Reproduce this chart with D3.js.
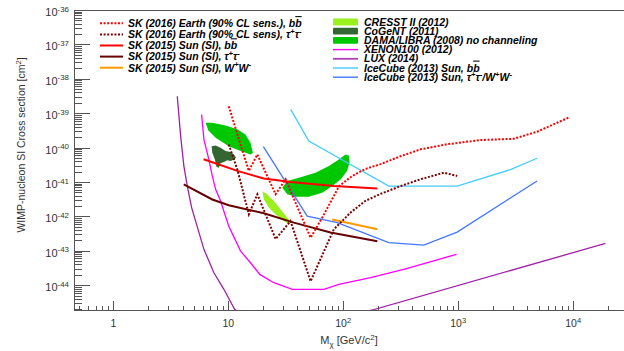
<!DOCTYPE html>
<html>
<head>
<meta charset="utf-8">
<script src="https://cdn.jsdelivr.net/npm/d3@7"></script>
<style>
body { margin: 0; background: #fff; }
svg { display: block; }
text { font-family: "Liberation Sans", Arial, sans-serif; }
</style>
</head>
<body>
<svg id="chart" width="624" height="351"></svg>
<script>
// axis ranges / ticks
const massRange = [0.455, 3e4]
const sigmaRange = [1.9e-45, 1e-36]
const massTicks = [1, 10, 100, 1000, 10000]
const massTickLabels = ['1', '10', '10^{2}', '10^{3}', '10^{4}']
const sigmaTicks = [1e-44, 1e-43, 1e-42, 1e-41, 1e-40, 1e-39, 1e-38, 1e-37, 1e-36]
const sigmaTickLabels = ['10^{-44}', '10^{-43}', '10^{-42}', '10^{-41}', '10^{-40}', '10^{-39}', '10^{-38}', '10^{-37}', '10^{-36}']

// curves: [mass GeV, cross section cm2]
const skEarthBB = [[10.1, 1.6e-39], [12.8, 1.2e-40], [15.1, 2.1e-41], [17.9, 6.3e-41], [25.8, 4.4e-42], [31.5, 1.2e-41],
    [52, 2.4e-43], [65.6, 9.2e-43], [82.8, 3.9e-42], [92, 7.6e-42], [120, 1.5e-41], [156, 2.4e-41], [211, 3.3e-41],
    [315, 5.6e-41], [470, 8.9e-41], [800, 1.25e-40], [1560, 1.66e-40], [3040, 1.8e-40], [4860, 2.9e-40], [9100, 7.4e-40]]
const skEarthTau = [[10.1, 1.23e-40], [12, 2.3e-41], [15.1, 1.15e-42], [17.9, 4.4e-42], [25.8, 2.2e-43], [34.8, 7.3e-43],
    [52, 1.3e-44], [82.8, 4.2e-43], [116, 1.3e-42], [155, 2.8e-42], [211, 4.5e-42], [315, 7.6e-42], [470, 1.2e-41],
    [750, 1.87e-41], [980, 1.5e-41]]
const skSunBB = [[6.1, 4.6e-41], [12, 2.1e-41], [20.4, 1.26e-41], [34.8, 1e-41], [82.8, 7.6e-42], [198, 6.5e-42]]
const skSunTau = [[4.1, 8.5e-42], [7.26, 3.1e-42], [10.1, 2.1e-42], [20.4, 1.23e-42], [37.2, 6.6e-43], [77.6, 3.4e-43], [198, 1.9e-43]]
const skSunWW = [[80, 8.1e-43], [198, 4.2e-43]]
const xenon100 = [[5.86, 9.2e-40], [6.14, 1.73e-40], [6.78, 4.5e-41], [7.26, 1.5e-41], [7.76, 6.1e-42], [8.57, 2.8e-42],
    [10.1, 5.2e-43], [12.8, 9.8e-44], [15.6, 4.5e-44], [18.8, 2.06e-44], [24.9, 1.18e-44], [36.1, 7.6e-45],
    [67.8, 7.6e-45], [91.6, 1.05e-44], [173, 1.65e-44], [336, 2.9e-44], [966, 7.9e-44]]
const lux = [[3.6, 3.1e-39], [3.85, 2.2e-40], [4.11, 2.9e-41], [4.4, 7.6e-42], [4.8, 1.8e-42], [6.14, 1.1e-43],
    [7.5, 2.3e-44], [9.16, 7.6e-45], [11.35, 2e-45], [15, 1.1e-45], [33, 7.6e-46], [100, 1.2e-45], [179, 1.9e-45],
    [19100, 1.64e-43]]
const iceCubeBB = [[34.9, 1.29e-39], [50.2, 1.55e-40], [249, 7.6e-42], [980, 7.6e-42], [2850, 2.3e-41], [4860, 4.9e-41]]
const iceCubeTau = [[20.2, 1.07e-40], [48.6, 1.02e-42], [88.7, 6.6e-43], [249, 1.73e-43], [502, 1.47e-43], [980, 3.5e-43], [4860, 1.07e-41]]

// allowed regions (closed contours)
const damaLow = [[6.35, 5.3e-40], [7.26, 5.3e-40], [9.48, 4.4e-40], [12, 3.4e-40], [14.1, 2.4e-40], [15.6, 1.39e-40],
    [16.4, 7.1e-41], [15.6, 6.3e-41], [12.8, 7.9e-41], [10.1, 1.1e-40], [7.76, 1.94e-40], [6.7, 3.2e-40]]
const damaHigh = [[29.5, 6.8e-42], [32.6, 1.06e-41], [41.1, 1.33e-41], [57.4, 1.86e-41], [75, 2.9e-41], [91.6, 4.5e-41],
    [104.7, 6.3e-41], [112, 5.9e-41], [113.5, 3.6e-41], [108, 2.1e-41], [94.8, 1.19e-41], [80.2, 7.6e-42],
    [65.6, 4.9e-42], [50.2, 3.7e-42], [38.5, 3.7e-42], [32.6, 4.4e-42]]
const cogent = [[7.16, 1.1e-40], [7.76, 1.16e-40], [8.57, 9.9e-41], [9.48, 7.9e-41], [10.5, 7.4e-41], [11.2, 6.3e-41],
    [11.7, 5.1e-41], [11.2, 4.5e-41], [10.5, 4.1e-41], [9.8, 4.3e-41], [9.16, 3.8e-41], [8.57, 3.5e-41],
    [8.28, 2.6e-41], [7.87, 2.8e-41], [7.65, 4.5e-41], [7.26, 7.1e-41]]
const cresst = [[19.8, 5.4e-42], [21.8, 4.4e-42], [24.9, 2.8e-42], [28.5, 1.6e-42], [32.6, 9.2e-43], [35.5, 6.6e-43],
    [33.7, 5.9e-43], [30.4, 7.3e-43], [25.8, 1.14e-42], [22.5, 1.8e-42], [20.4, 3.1e-42]]

const svg = d3.select('#chart')
const padL = 74, padR = 628, padT = 10, padB = 310

let x = d3.scaleLog().domain(massRange).range([padL, padR]),
    y = d3.scaleLog().domain(sigmaRange).range([padB, padT])

// little latex-ish helper: ^{..} superscript, _{..} subscript, #bar{..} overline
function latex(sel, str, size) {
    let re = /(\^|_|#bar)\{([^}]*)\}/g, last = 0, m, shift = 0
    function add(s, kind) {
        let ts = sel.append('tspan').text(s)
        let target = kind === '^' ? -0.4 * size : kind === '_' ? 0.3 * size : 0
        ts.attr('dy', target - shift)
        shift = target
        if (kind === '^' || kind === '_') ts.attr('font-size', size * 0.72)
        if (kind === '#bar') ts.style('text-decoration', 'overline')
    }
    while ((m = re.exec(str))) {
        if (m.index > last) add(str.slice(last, m.index), '')
        add(m[2], m[1])
        last = re.lastIndex
    }
    if (last < str.length) add(str.slice(last), '')
}

svg.append('clipPath').attr('id', 'frame')
    .append('rect').attr('x', padL).attr('y', padT).attr('width', padR - padL).attr('height', padB - padT)

let plot = svg.append('g').attr('clip-path', 'url(#frame)')
let line = d3.line().x(d => x(d[0])).y(d => y(d[1]))

// regions
;[[damaLow, '#00c800'], [damaHigh, '#00c800'], [cogent, '#336633'], [cresst, '#99f01c']].forEach(r => {
    plot.append('path').attr('d', line(r[0]) + 'Z').attr('fill', r[1]).attr('stroke', 'none')
})

// limit curves
let curves = [
    [xenon100, '#ff00ff', 1.3, null],
    [lux, '#a020a8', 1.3, null],
    [iceCubeBB, '#44ccff', 1.3, null],
    [iceCubeTau, '#4477ff', 1.3, null],
    [skSunBB, '#ff0000', 2, null],
    [skSunTau, '#660000', 2, null],
    [skSunWW, '#ff9900', 2, null],
    [skEarthBB, '#ff0000', 2, '2,1.6'],
    [skEarthTau, '#800000', 2, '2,1.6']
]
curves.forEach(c => {
    plot.append('path').attr('d', line(c[0]))
        .attr('fill', 'none').attr('stroke', c[1]).attr('stroke-width', c[2])
        .attr('stroke-dasharray', c[3])
})

// frame + axes (ROOT style, ticks inside)
let axisCol = '#555'
function minorTicks(lo, hi, from, to) {
    let out = []
    for (let e = from; e <= to; e++)
        for (let k = 2; k <= 9; k++) {
            let v = k * Math.pow(10, e)
            if (v >= lo && v <= hi) out.push(v)
        }
    return out
}
svg.append('g').attr('transform', `translate(0,${padB})`)
    .call(d3.axisBottom(x).tickValues(minorTicks(massRange[0], massRange[1], -1, 4)).tickSize(-4.5).tickFormat(''))
svg.append('g').attr('transform', `translate(0,${padB})`)
    .call(d3.axisBottom(x).tickValues(massTicks).tickSize(-9).tickFormat(''))
svg.append('g').attr('transform', `translate(${padL},0)`)
    .call(d3.axisLeft(y).tickValues(minorTicks(sigmaRange[0], sigmaRange[1], -46, -37)).tickSize(-8).tickFormat(''))
svg.append('g').attr('transform', `translate(${padL},0)`)
    .call(d3.axisLeft(y).tickValues(sigmaTicks).tickSize(-16).tickFormat(''))
svg.selectAll('.domain').remove()
svg.selectAll('.tick line').attr('stroke', axisCol).attr('shape-rendering', 'crispEdges')

svg.append('path')
    .attr('d', `M${padR},${padT + 0.5}H${padL + 0.5}V${padB + 0.5}H${padR}`)
    .attr('fill', 'none').attr('stroke', axisCol).attr('stroke-width', 1).attr('shape-rendering', 'crispEdges')

// tick labels
massTicks.forEach((v, i) => {
    let t = svg.append('text').attr('x', x(v)).attr('y', 327).attr('text-anchor', 'middle')
        .attr('font-size', 10.5).attr('fill', '#333')
    latex(t, massTickLabels[i], 10.5)
})
sigmaTicks.forEach((v, i) => {
    let t = svg.append('text').attr('x', 69).attr('y', y(v) + 6).attr('text-anchor', 'end')
        .attr('font-size', 11).attr('fill', '#333')
    latex(t, sigmaTickLabels[i], 11)
})

// axis titles
let xt = svg.append('text').attr('x', 349).attr('y', 344).attr('text-anchor', 'middle')
    .attr('font-size', 11).attr('fill', '#333')
latex(xt, 'M_{χ} [GeV/c^{2}]', 11)
let yt = svg.append('text').attr('transform', 'translate(25,145) rotate(-90)').attr('text-anchor', 'middle')
    .attr('font-size', 10.5).attr('fill', '#333')
latex(yt, 'WIMP-nucleon SI Cross section [cm^{2}]', 10.5)

// legend 1 - Super-K
let skLegend = [
    ['SK (2016) Earth (90% CL sens.), b#bar{b}', '#ff0000', '2,1.6'],
    ['SK (2016) Earth (90% CL sens), τ^{+}τ^{-}', '#800000', '2,1.6'],
    ['SK (2015) Sun (SI), b#bar{b}', '#ff0000', null],
    ['SK (2015) Sun (SI), τ^{+}τ^{-}', '#660000', null],
    ['SK (2015) Sun (SI), W^{+}W^{-}', '#ff9900', null]
]
skLegend.forEach((d, i) => {
    let cy = 23.3 + i * 11.1
    svg.append('line').attr('x1', 100).attr('x2', 123).attr('y1', cy).attr('y2', cy)
        .attr('stroke', d[1]).attr('stroke-width', 2).attr('stroke-dasharray', d[2])
    let t = svg.append('text').attr('x', 128).attr('y', cy + 3.8)
        .attr('font-size', 10.5).attr('font-weight', 'bold').attr('font-style', 'italic')
    latex(t, d[0], 10.5)
})

// legend 2 - other experiments
let expLegend = [
    ['CRESST II (2012)', 'box', '#99f01c'],
    ['CoGeNT (2011)', 'box', '#336633'],
    ['DAMA/LIBRA (2008) no channeling', 'box', '#00c800'],
    ['XENON100 (2012)', 'line', '#ff00ff'],
    ['LUX (2014)', 'line', '#b040b8'],
    ['IceCube (2013) Sun, b#bar{b}', 'line', '#44ccff'],
    ['IceCube (2013) Sun, τ^{+}τ^{-}/W^{+}W^{-}', 'line', '#4477ff']
]
expLegend.forEach((d, i) => {
    let cy = 22 + i * 9.2
    if (d[1] === 'box')
        svg.append('rect').attr('x', 333).attr('y', cy - 3.4).attr('width', 25).attr('height', 6.8)
            .attr('rx', 1).attr('fill', d[2])
    else
        svg.append('line').attr('x1', 333).attr('x2', 358).attr('y1', cy).attr('y2', cy)
            .attr('stroke', d[2]).attr('stroke-width', i === 4 ? 1.8 : 1.4)
    let t = svg.append('text').attr('x', 364).attr('y', cy + 3.6)
        .attr('font-size', 10.5).attr('font-weight', 'bold').attr('font-style', 'italic')
    latex(t, d[0], 10.5)
})
</script>
</body>
</html>
